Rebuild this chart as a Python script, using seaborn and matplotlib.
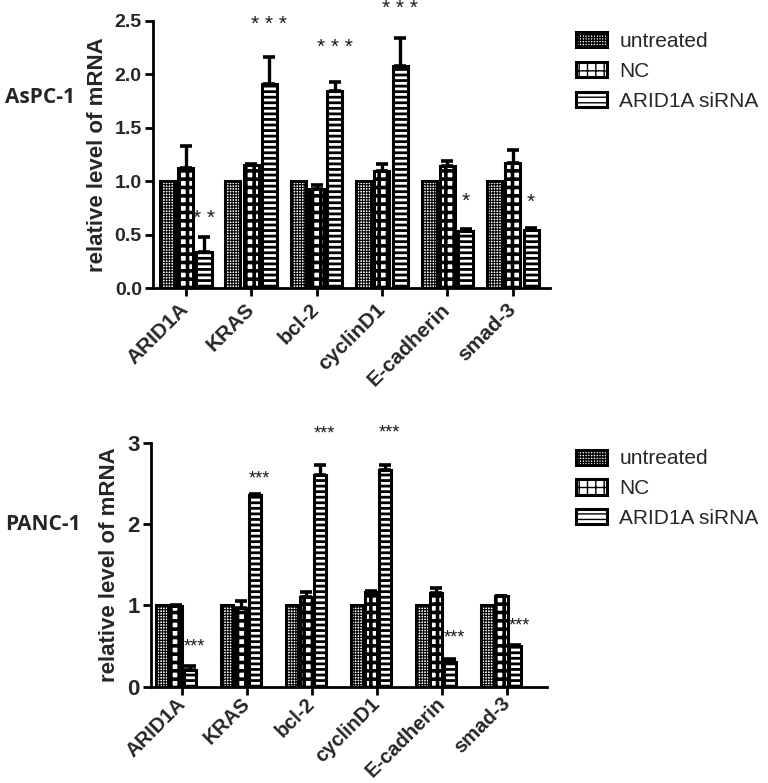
import numpy as np
import pandas as pd
import matplotlib
matplotlib.use("Agg")
import matplotlib.pyplot as plt
import seaborn as sns
from matplotlib.patches import Patch

sns.set_style("white")
plt.rcParams['font.family'] = ['Liberation Sans', 'DejaVu Sans']

genes = ["ARID1A", "KRAS", "bcl-2", "cyclinD1", "E-cadherin", "smad-3"]
groups = ["untreated", "NC", "ARID1A siRNA"]

# AsPC-1
aspc_untreated = [1.0, 1.0, 1.0, 1.0, 1.0, 1.0]
aspc_nc = [1.12, 1.15, 0.93, 1.10, 1.14, 1.17]
aspc_nc_err = [0.21, 0.01, 0.035, 0.06, 0.05, 0.12]
aspc_si = [0.34, 1.91, 1.84, 2.08, 0.535, 0.545]
aspc_si_err = [0.14, 0.25, 0.09, 0.26, 0.015, 0.02]
aspc_stars = ["* *", "* * *", "* * *", "* * *", "*", "*"]
aspc_star_y = [0.65, 2.46, 2.245, 2.615, 0.81, 0.80]

# PANC-1
panc_untreated = [1.0, 1.0, 1.0, 1.0, 1.0, 1.0]
panc_nc = [0.99, 0.97, 1.10, 1.165, 1.155, 1.11]
panc_nc_err = [0.02, 0.08, 0.06, 0.01, 0.06, 0.01]
panc_si = [0.20, 2.36, 2.60, 2.67, 0.30, 0.50]
panc_si_err = [0.05, 0.01, 0.12, 0.05, 0.04, 0.01]
panc_stars = ["***"] * 6
panc_star_y = [0.49, 2.56, 3.11, 3.12, 0.60, 0.75]

hatches = ["++++++", "++", "---"]
hatch_lw = [0.8, 2.6, 2.0]


def make_df(u, n, s):
    rows = []
    for g, vals in zip(groups, [u, n, s]):
        for gene, v in zip(genes, vals):
            rows.append({"gene": gene, "group": g, "value": v})
    return pd.DataFrame(rows)


fig = plt.figure(figsize=(7.68, 7.83), dpi=100)


def panel(rect, u, n, nerr, s, serr, stars, star_y, ylim, yticks, ytl,
          width, gap, xlim, tick_shift, star_dx, star_fs, legend_y,
          ytick_fs, xtick_fs, xpad):
    ax = fig.add_axes(rect)
    df = make_df(u, n, s)
    sns.barplot(data=df, x="gene", y="value", hue="group", hue_order=groups,
                order=genes, width=width, gap=gap, errorbar=None,
                palette=["white"] * 3, edgecolor="black", linewidth=2.2,
                legend=False, ax=ax)
    for ci, cont in enumerate(ax.containers):
        for p in cont:
            p.set_hatch(hatches[ci])
            p.set_edgecolor("black")
            p.set_facecolor("white")
            if hasattr(p, "set_hatch_linewidth"):
                p.set_hatch_linewidth(hatch_lw[ci])
    # error bars (upper only)
    for ci, (vals, errs) in enumerate([(n, nerr), (s, serr)], start=1):
        xs = [p.get_x() + p.get_width() / 2 for p in ax.containers[ci]]
        ax.errorbar(xs, vals, yerr=[np.zeros(len(errs)), errs], fmt="none",
                    ecolor="black", elinewidth=2.4, capsize=4, capthick=2.6,
                    zorder=1)
    # stars
    xs_si = [p.get_x() + p.get_width() / 2 for p in ax.containers[2]]
    for x, t, y in zip(xs_si, stars, star_y):
        ax.text(x + star_dx, y, t, ha="center", va="center", fontsize=star_fs,
                color="#1a1a1a", clip_on=False)
    ax.set_xlim(*xlim)
    ax.set_ylim(*ylim)
    ax.set_yticks(yticks)
    ax.set_yticklabels(ytl, fontsize=ytick_fs, fontweight="bold")
    ax.set_xticks(np.arange(len(genes)) + tick_shift)
    ax.set_xticklabels(genes, rotation=45, ha="right", va="center",
                       rotation_mode="anchor", fontsize=xtick_fs,
                       fontweight="bold")
    ax.set_xlabel("")
    ax.set_ylabel("relative level of mRNA", fontsize=16, fontweight="bold",
                  labelpad=5)
    for sp in ["top", "right"]:
        ax.spines[sp].set_visible(False)
    for sp in ["left", "bottom"]:
        ax.spines[sp].set_linewidth(2.0)
        ax.spines[sp].set_color("black")
    ax.tick_params(axis="both", direction="out", length=6, width=2.0,
                   color="black", bottom=True, left=True)
    ax.tick_params(axis="x", pad=xpad)
    ax.tick_params(axis="y", pad=2)
    handles = []
    for h, lw in zip(hatches, hatch_lw):
        hp = Patch(facecolor="white", edgecolor="black", hatch=h,
                   linewidth=2.2, label="")
        if hasattr(hp, "set_hatch_linewidth"):
            hp.set_hatch_linewidth(lw)
        handles.append(hp)
    fig.legend(handles, groups, loc="upper left",
               bbox_to_anchor=(0.725, legend_y), frameon=False, fontsize=15,
               handlelength=1.5, handleheight=0.75, handletextpad=0.6,
               labelspacing=0.52)
    return ax


ax1 = panel([0.1992, 0.6318, 0.517, 0.3418], aspc_untreated, aspc_nc,
            aspc_nc_err, aspc_si, aspc_si_err, aspc_stars, aspc_star_y,
            (0, 2.5), [0, 0.5, 1.0, 1.5, 2.0, 2.5],
            ["0.0", "0.5", "1.0", "1.5", "2.0", "2.5"],
            0.84, 0.18, (-0.5, 5.57), 0.0, 0.0, 15, 0.983, 14, 15, 7)
ax2 = panel([0.1962, 0.123, 0.5156, 0.3116], panc_untreated, panc_nc,
            panc_nc_err, panc_si, panc_si_err, panc_stars, panc_star_y,
            (0, 3), [0, 1, 2, 3], ["0", "1", "2", "3"],
            0.645, 0.09, (-0.39, 5.70), 0.095, 0.06, 13, 0.45, 16, 14.5, 4)

fig.text(0.007, 0.876, "AsPC-1", fontsize=15, fontweight="bold",
         family=["Open Sans", "DejaVu Sans"], va="center", ha="left")
fig.text(0.007, 0.330, "PANC-1", fontsize=15, fontweight="bold",
         family=["Open Sans", "DejaVu Sans"], va="center", ha="left")

fig.savefig("out.png", dpi=100)
